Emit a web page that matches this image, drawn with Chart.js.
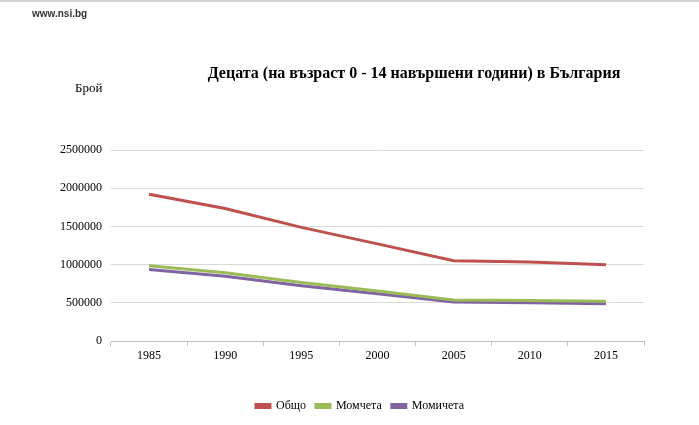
<!DOCTYPE html>
<html>
<head>
<meta charset="utf-8">
<script src="https://cdn.jsdelivr.net/npm/chart.js@4/dist/chart.umd.min.js"></script>
<style>
  html, body { margin: 0; padding: 0; background: #fff; }
  #wrap { width: 699px; height: 425px; position: relative; }
</style>
</head>
<body>
<div id="wrap"><canvas id="lineChart"></canvas></div>
<script>
const years = ['1985', '1990', '1995', '2000', '2005', '2010', '2015'];
const total = [1922000, 1735000, 1487000, 1271000, 1050000, 1033000, 998000];
const boys = [985000, 893000, 767000, 654000, 536000, 530000, 519000];
const girls = [937000, 846000, 723000, 618000, 510000, 502000, 488000];
const seriesNames = ['Общо', 'Момчета', 'Момичета'];

// header texts: site, title, y axis unit
const headerText = {
  id: 'headerText',
  afterLayout(chart) {
    // centre the legend under x ~ 360 like the original
    chart.legend.left = 76;
  },
  afterDraw(chart) {
    const c = chart.ctx;
    c.save();
    c.fillStyle = '#d4d4d4';
    c.fillRect(0, 0, chart.width, 2);
    c.fillStyle = '#333';
    c.font = 'bold 10px "Liberation Sans", sans-serif';
    c.textBaseline = 'middle';
    c.fillText('www.nsi.bg', 32, 14);
    c.fillStyle = '#000';
    c.font = 'bold 16px "Liberation Serif", serif';
    c.textAlign = 'center';
    c.fillText('Децата (на възраст 0 - 14 навършени години) в България', 414, 74);
    c.font = '13px "Liberation Serif", serif';
    c.textAlign = 'left';
    c.fillText('Брой', 75, 89);
    c.restore();
  }
};

const ctx = document.getElementById('lineChart').getContext('2d');
const lineChart = new Chart(ctx, {
  type: 'line',
  data: {
    labels: years,
    datasets: [
      { label: seriesNames[0], data: total, borderColor: '#C0504D', backgroundColor: '#C0504D' },
      { label: seriesNames[1], data: boys, borderColor: '#9BBB59', backgroundColor: '#9BBB59' },
      { label: seriesNames[2], data: girls, borderColor: '#8064A2', backgroundColor: '#8064A2' }
    ]
  },
  options: {
    responsive: true,
    maintainAspectRatio: false,
    animation: false,
    layout: { padding: { top: 150, right: 55, left: 0, bottom: 3 } },
    elements: {
      line: { borderWidth: 3, tension: 0 },
      point: { radius: 0 }
    },
    scales: {
      x: {
        offset: true,
        grid: { offset: true, drawOnChartArea: false, drawTicks: true, tickLength: 5, color: '#bfbfbf' },
        border: { color: '#bfbfbf' },
        ticks: { color: '#000', font: { family: '"Liberation Serif", serif', size: 12 }, padding: 3 },
        afterFit(axis) { axis.height = 49; }
      },
      y: {
        min: 0,
        max: 2500000,
        grid: { color: '#d9d9d9', drawTicks: false },
        border: { display: false },
        ticks: {
          stepSize: 500000,
          color: '#000',
          padding: 9,
          font: { family: '"Liberation Serif", serif', size: 12 },
          callback: (v) => String(v)
        },
        afterFit(axis) { axis.width = 111; }
      }
    },
    plugins: {
      legend: {
        position: 'bottom',
        labels: {
          boxWidth: 14,
          boxHeight: 3,
          color: '#000',
          padding: 10,
          font: { family: '"Liberation Serif", serif', size: 12 }
        }
      },
      tooltip: { enabled: false }
    }
  },
  plugins: [headerText]
});
</script>
</body>
</html>
